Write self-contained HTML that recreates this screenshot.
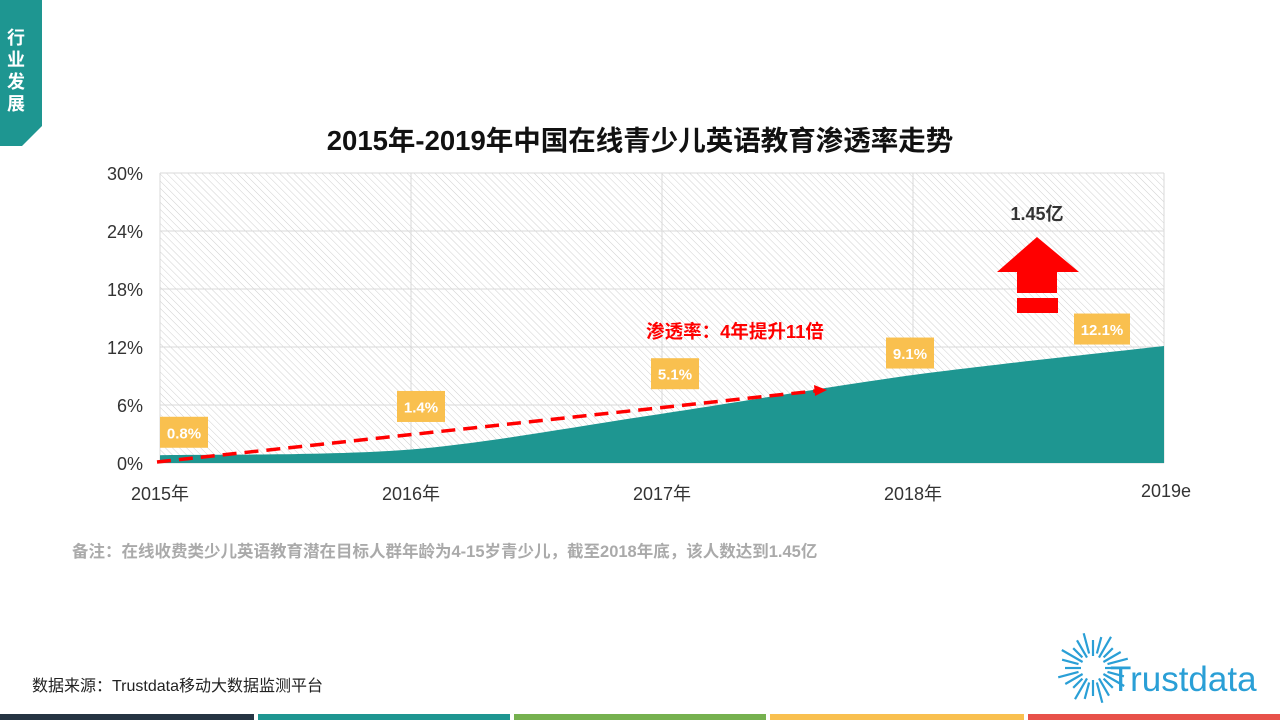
<!DOCTYPE html>
<html><head><meta charset="utf-8"><style>
body{margin:0;width:1280px;height:720px;background:#fff;position:relative;overflow:hidden;font-family:"Liberation Sans","Noto Sans CJK SC",sans-serif}
.abs{position:absolute}
</style></head><body>
<svg class="abs" style="left:0;top:0" width="1280" height="720">
<defs><pattern id="hatch" width="5" height="5" patternUnits="userSpaceOnUse" patternTransform="rotate(-45)"><line x1="0" y1="0" x2="0" y2="5" stroke="#d0d0d0" stroke-width="1"/></pattern></defs>
<polygon points="0,0 42,0 42,126 22,146 0,146" fill="#1e9691"/>
<text x="16" y="44" fill="#fff" font-size="18" font-weight="bold" text-anchor="middle" font-family="Noto Sans CJK SC,sans-serif"><tspan x="16" dy="0">行</tspan><tspan x="16" dy="22">业</tspan><tspan x="16" dy="22">发</tspan><tspan x="16" dy="22">展</tspan></text>
<text x="640" y="150" text-anchor="middle" font-size="27.5" font-weight="bold" fill="#111">2015年-2019年中国在线青少儿英语教育渗透率走势</text>
<g id="chart"></g>
<text x="72" y="557" font-size="16.5" font-weight="bold" fill="#aaa">备注：在线收费类少儿英语教育潜在目标人群年龄为4-15岁青少儿，截至2018年底，该人数达到1.45亿</text>
<text x="32" y="691" font-size="16" fill="#222">数据来源：Trustdata移动大数据监测平台</text>
<g>
<g stroke="#2a9fd6" stroke-width="2.2" id="sun"></g>
<text x="1110" y="691" font-size="35" fill="#2a9fd6">Trustdata</text>
</g>
<rect x="0" y="714" width="254" height="6" fill="#263443"/>
<rect x="258" y="714" width="252" height="6" fill="#1e9691"/>
<rect x="514" y="714" width="252" height="6" fill="#76b14f"/>
<rect x="770" y="714" width="254" height="6" fill="#f9c04f"/>
<rect x="1028" y="714" width="252" height="6" fill="#e8514a"/>
</svg>
<script>
const categories=["2015年","2016年","2017年","2018年","2019e"];
const values=[0.8,1.4,5.1,9.1,12.1];
const valueLabels=["0.8%","1.4%","5.1%","9.1%","12.1%"];
const yTicks=[0,6,12,18,24,30];
const labelDx=[24,10,13,-3,-62];
const labelDy=[-23,-43,-40,-22,-17];
const NS="http://www.w3.org/2000/svg";
const g=document.getElementById('chart');
const X0=160,X1=1164,Y0=463,Y1=173;
const xs=i=>X0+(X1-X0)*i/(categories.length-1);
const ys=v=>Y0-(Y0-Y1)*v/30;
function mk(t,a,p){const e=document.createElementNS(NS,t);for(const k in a)e.setAttribute(k,a[k]);(p||g).appendChild(e);return e;}
let e=mk('rect',{x:X0,y:Y1,width:X1-X0,height:Y0-Y1,fill:'url(#hatch)'});


yTicks.forEach(t=>{
 let l=mk('line',{x1:X0,x2:X1,y1:ys(t),y2:ys(t),stroke:'#d9d9d9'});
 
 
 let tx=mk('text',{x:143,y:ys(t)+7,'text-anchor':'end','font-size':18,fill:'#333'});tx.textContent=t+'%';
 
 
});
categories.forEach((c,i)=>{
 let l=mk('line',{x1:xs(i),x2:xs(i),y1:Y1,y2:Y0,stroke:'#d9d9d9'});
 
 
 let last=i==categories.length-1;
 let tx=mk('text',{x:xs(i)+(last?2:0),y:last?497:500,'text-anchor':'middle','font-size':18,fill:'#333'});tx.textContent=c;
 
 
});
let pts=values.map((v,i)=>[xs(i),ys(v)]);
let d=`M${X0},${Y0} L${pts[0][0]},${pts[0][1]}`;
for(let i=0;i<pts.length-1;i++){
 const p0=pts[Math.max(0,i-1)],p1=pts[i],p2=pts[i+1],p3=pts[Math.min(pts.length-1,i+2)];
 const t=0.15;
 d+=` C${p1[0]+(p2[0]-p0[0])*t},${p1[1]+(p2[1]-p0[1])*t} ${p2[0]-(p3[0]-p1[0])*t},${p2[1]-(p3[1]-p1[1])*t} ${p2[0]},${p2[1]}`;
}
d+=` L${X1},${Y0} Z`;
e=mk('path',{d:d,fill:'#1e9691'});


e=mk('line',{x1:157,y1:462,x2:815,y2:391,stroke:'#f00','stroke-width':3.5,'stroke-dasharray':'14 8'});


e=mk('polygon',{points:'827,390 814,385 815,396',fill:'#f00'});


e=mk('text',{x:735,y:338,'text-anchor':'middle','font-size':18.5,'font-weight':'bold',fill:'#f00'});e.textContent='渗透率：4年提升11倍';


values.forEach((v,i)=>{
 const cx=xs(i)+labelDx[i],cy=ys(v)+labelDy[i];
 const w=valueLabels[i].length>4?56:48;
 let r=mk('rect',{x:cx-w/2,y:cy-15.5,width:w,height:31,fill:'#f9c04f'});
 
 
 let t=mk('text',{x:cx,y:cy+6,'text-anchor':'middle','font-size':15,'font-weight':'bold',fill:'#fff'});t.textContent=valueLabels[i];
 
 
});
e=mk('polygon',{points:'1037,237 1079,272 1057,272 1057,293 1017,293 1017,272 997,272',fill:'#f00'});


e=mk('rect',{x:1017,y:298,width:41,height:15,fill:'#f00'});


e=mk('text',{x:1037,y:220,'text-anchor':'middle','font-size':18,'font-weight':'bold',fill:'#333'});e.textContent='1.45亿';


const sun=document.getElementById('sun');
for(let k=0;k<24;k++){const a=k*Math.PI/12;const r1=12+(k%2)*3,r2=28+(k%3)*4;
 mk('line',{x1:1093+r1*Math.cos(a),y1:668+r1*Math.sin(a),x2:1093+r2*Math.cos(a),y2:668+r2*Math.sin(a)},sun);}
</script>
</body></html>
